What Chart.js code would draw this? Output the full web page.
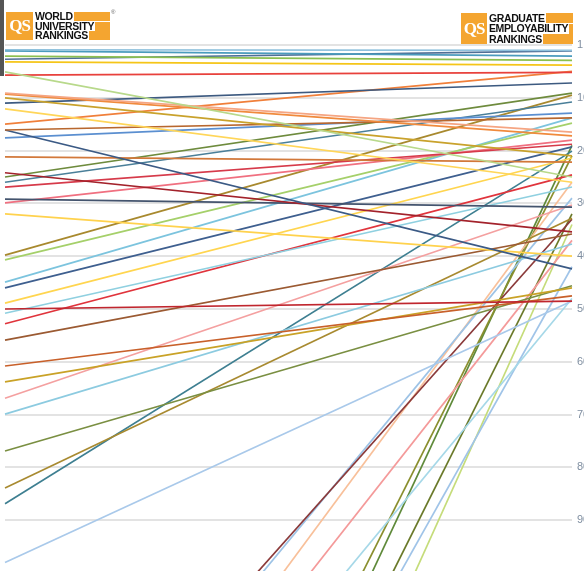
<html>
<head>
<meta charset="utf-8">
<script src="https://cdn.jsdelivr.net/npm/chart.js@4.4.1/dist/chart.umd.min.js"></script>
<style>
body{margin:0;overflow:hidden;background:#fff;width:584px;height:571px;position:relative}
#wrap{position:absolute;left:0;top:0;width:610px;height:600px}
.strip{position:absolute;left:0;top:0;width:4px;height:76px;background:#555}
.logo{position:absolute;display:flex;font-family:"Liberation Sans",Arial,sans-serif;font-weight:bold;color:#111}
.logo .qs{background:#f4a530;color:#fff;font-family:"Liberation Serif",serif;font-size:17px;display:flex;align-items:center;justify-content:center;letter-spacing:-1px}
.logo .rows{display:flex;flex-direction:column;flex:1;justify-content:space-between;padding:0 0 0 2px}
.logo .row{display:flex;align-items:center;line-height:1}
.logo .row span.t{font-size:10.5px;letter-spacing:-0.4px;background:#fff;padding-right:1px}
.logo .row span.b{flex:1;height:100%;background:#f4a530}
.reg{position:absolute;font-size:6px;color:#666;font-family:Arial,sans-serif}
</style>
</head>
<body>
<div id="wrap"><canvas id="myChart" width="610" height="600"></canvas></div>
<div class="strip"></div>
<div class="logo" style="left:6px;top:12px;width:104px;height:28px">
 <div class="qs" style="width:27px">QS</div>
 <div class="rows">
  <div class="row" style="height:9px"><span class="t">WORLD</span><span class="b"></span></div>
  <div class="row" style="height:9px"><span class="t">UNIVERSITY</span><span class="b"></span></div>
  <div class="row" style="height:9px"><span class="t">RANKINGS</span><span class="b"></span></div>
 </div>
</div>
<div class="reg" style="left:111px;top:9px">®</div>
<div class="logo" style="left:461px;top:13px;width:112px;height:31px">
 <div class="qs" style="width:26px">QS</div>
 <div class="rows">
  <div class="row" style="height:10px"><span class="t">GRADUATE</span><span class="b"></span></div>
  <div class="row" style="height:10px"><span class="t">EMPLOYABILITY</span><span class="b"></span></div>
  <div class="row" style="height:10px"><span class="t">RANKINGS</span><span class="b"></span></div>
 </div>
</div>
<script type="text/javascript">

// two columns of the slope chart
var stages = ["World University Rankings", "Graduate Employability Rankings"];

// rank in the world university rankings (left end)
var worldRank = [0.9, 1.1, 2.1, 2.7, 3.2, 5.1, 5.7, 9.1, 9.3, 10.0,
	11.0, 12.1, 15.0, 16.1, 16.1, 17.6, 21.2, 24.2, 25.0, 26.0,
	26.9, 29.2, 29.9, 32.0, 39.8, 40.7, 44.9, 46.0, 48.9, 50.0,
	50.8, 52.8, 55.9, 60.8, 63.8, 66.9, 69.9, 76.9, 83.9, 86.9,
	98.0, 153.5, 158.9, 171.1, 173.4, 178, 234.6, 248.4, 246.7, 233.3, 272];

// rank in the graduate employability rankings (right end)
var employRank = [1.0, 2.1, 2.9, 1.1, 3.8, 25.0, 5.2, 16.5, 17.2, 21.0,
	7.2, 26.0, 5.0, 13.8, 42.4, 12.9, 22.2, 35.4, 9.1, 10.8,
	18.8, 30.7, 18.0, 40.0, 9.5, 14.8, 13.8, 19.3, 21.4, 48.5,
	26.9, 24.6, 35.8, 47.5, 46.0, 30.3, 37.7, 45.6, 32.8, 20.1,
	48.5, 33, 29, 26, 37, 48, 21, 19, 32, 42, 34];

var lineColors = ["#8fc1dc", "#4a9bbd", "#8cbf4f", "#4f6f96", "#f5c518", "#b8d98b", "#e8413c", "#f5a582", "#f08a3c", "#c9a22c",
	"#3d5a80", "#ffd659", "#f07f3a", "#b8672e", "#3b5a85", "#5b8fd0", "#d2783a", "#a3222b", "#6e8b3d", "#4a7f99",
	"#d63a4a", "#44546e", "#f07080", "#ffd24d", "#a8892e", "#a5d06a", "#7cc4de", "#3e5f8f", "#ffd54f", "#c0262e",
	"#8fd0e0", "#e0343c", "#9b5a32", "#c8602a", "#c9a227", "#f4a0a0", "#8ccbe0", "#7a8f42", "#a88a30", "#3e7f91",
	"#a9c9ea", "#8b3a3a", "#9dc3e6", "#f8c09a", "#f49a9a", "#a6d8e8", "#8a8f2e", "#5f8a3a", "#6b7a2a", "#a0c4e8", "#c5dc7a"];

var tickValues = [0, 10, 20, 30, 40, 50, 60, 70, 80, 90];
var tickLabels = ["1", "10", "20", "30", "40", "50", "60", "70", "80", "90"];

function buildDatasets(){
	let sets = [];
	worldRank.forEach((w, i) => sets.push({
		data: [w, employRank[i]],
		borderColor: lineColors[i],
		borderWidth: 1.7,
		pointRadius: 0,
		fill: false
	}));
	return sets;
}

new Chart("myChart", {
	type: "line",
	data: {
		labels: stages,
		datasets: buildDatasets()
	},
	options: {
		responsive: false,
		animation: false,
		layout: { padding: { left: 5, top: 45, bottom: 27, right: 0 } },
		plugins: { legend: { display: false }, tooltip: { enabled: false } },
		scales: {
			x: { display: false, offset: false },
			y: {
				position: "right",
				reverse: true,
				min: 0,
				max: 100,
				afterFit: s => { s.width = 38; },
				afterBuildTicks: s => { s.ticks = tickValues.map(v => ({ value: v })); },
				grid: { color: "#e3e3e3", lineWidth: 2, drawTicks: false },
				border: { display: false },
				ticks: {
					padding: 5,
					color: "#7f8ea0",
					font: { size: 11 },
					callback: (v) => tickLabels[tickValues.indexOf(v)]
				}
			}
		}
	}
});
</script>
</body>
</html>
